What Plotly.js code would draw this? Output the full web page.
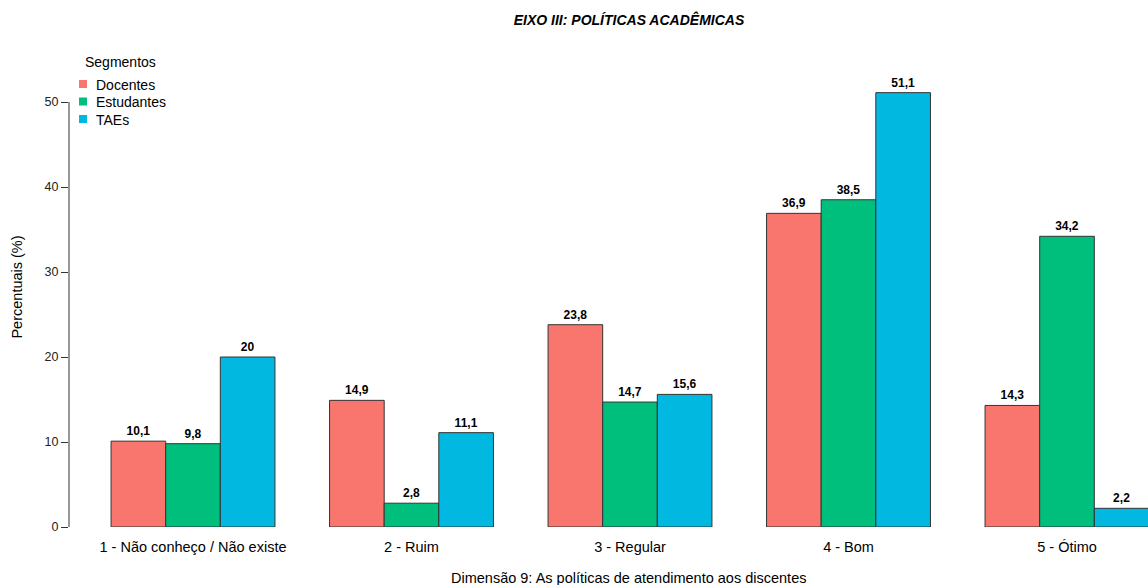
<!DOCTYPE html>
<html>
<head>
<meta charset="utf-8">
<script src="https://cdn.plot.ly/plotly-3.0.1.min.js"></script>
<style>html,body{margin:0;padding:0;background:#fff;}#chart{width:1148px;height:585px;}</style>
</head>
<body>
<div id="chart"></div>
<script>
const categories = ["1 - Não conheço / Não existe", "2 - Ruim", "3 - Regular", "4 - Bom", "5 - Ótimo"];
const docentes = [10.1, 14.9, 23.8, 36.9, 14.3];
const estudantes = [9.8, 2.8, 14.7, 38.5, 34.2];
const taes = [20, 11.1, 15.6, 51.1, 2.2];
const seriesNames = ["Docentes", "Estudantes", "TAEs"];
const seriesColors = ["#F8766D", "#00BF7D", "#00B8E0"];
const yTicks = [0, 10, 20, 30, 40, 50];
const legendTitle = "Segmentos";

const fmt = v => String(v).replace('.', ',');
const font = "Liberation Sans, Arial, sans-serif";
const W = 1148, H = 585;

const traces = [docentes, estudantes, taes].map((vals, i) => ({
  type: 'bar',
  name: seriesNames[i],
  x: categories,
  y: vals,
  text: vals.map(fmt),
  textposition: 'outside',
  cliponaxis: false,
  textfont: {family: font, size: 12, color: '#000', weight: 'bold'},
  marker: {color: seriesColors[i], line: {color: '#333333', width: 1}},
  hoverinfo: 'x+y'
}));

// manual legend (R-style)
const legendShapes = seriesNames.map((n, i) => ({
  type: 'rect', xref: 'paper', yref: 'paper',
  x0: (79 - 69) / 1079, x1: (87 - 69) / 1079,
  y0: (527 - (84 + 17.5 * i) - 4) / 480, y1: (527 - (84 + 17.5 * i) + 4) / 480,
  fillcolor: seriesColors[i], line: {width: 0}
}));
const legendAnns = [{
  text: legendTitle, xref: 'paper', yref: 'paper',
  x: (83 - 69) / 1079, xanchor: 'left', y: (527 - 62) / 480, yanchor: 'middle',
  showarrow: false, font: {family: font, size: 14, color: '#000'}
}].concat(seriesNames.map((n, i) => ({
  text: n, xref: 'paper', yref: 'paper',
  x: (94 - 69) / 1079, xanchor: 'left', y: (527 - (85 + 17.5 * i)) / 480, yanchor: 'middle',
  showarrow: false, font: {family: font, size: 14, color: '#000'}
})));

const layout = {
  width: W, height: H,
  margin: {l: 69, r: 0, t: 47, b: 58, pad: 0},
  paper_bgcolor: '#fff', plot_bgcolor: '#fff',
  barmode: 'group', bargap: 0.25, bargroupgap: 0,
  separators: ',.',
  showlegend: false,
  font: {family: font, size: 13, color: '#000'},
  title: {
    text: '<b><i>EIXO III: POLÍTICAS ACADÊMICAS</i></b>',
    font: {family: font, size: 14, color: '#000'},
    x: 629 / W, xref: 'container', xanchor: 'center',
    y: 1 - 20 / H, yref: 'container', yanchor: 'middle'
  },
  xaxis: {
    type: 'category',
    range: [-0.5675, 4.3707],
    showline: false, showgrid: false, zeroline: false,
    ticks: 'outside', ticklen: 7, tickcolor: 'rgba(0,0,0,0)',
    tickfont: {family: font, size: 14.5, color: '#000'},
    fixedrange: true
  },
  yaxis: {
    range: [0, 56.47],
    tickvals: yTicks,
    ticktext: yTicks.map(String),
    showline: false, showgrid: false, zeroline: false,
    ticks: 'outside', ticklen: 7, tickcolor: '#333', tickwidth: 1,
    tickfont: {family: font, size: 12.5, color: '#222'},
    title: {text: 'Percentuais (%)', font: {family: font, size: 14.5, color: '#000'}, standoff: 18},
    automargin: false,
    fixedrange: true
  },
  shapes: [{
    type: 'line', xref: 'paper', yref: 'y',
    x0: 0, x1: 0, y0: yTicks[0], y1: yTicks[yTicks.length - 1],
    line: {color: '#333', width: 1}
  }].concat(legendShapes),
  annotations: [{
    text: 'Dimensão 9: As políticas de atendimento aos discentes',
    xref: 'paper', yref: 'paper',
    x: (629 - 69) / 1079, xanchor: 'center',
    y: -51 / 480, yanchor: 'middle',
    showarrow: false,
    font: {family: font, size: 14.5, color: '#000'}
  }].concat(legendAnns)
};

Plotly.newPlot('chart', traces, layout, {displayModeBar: false, staticPlot: true});
</script>
</body>
</html>
